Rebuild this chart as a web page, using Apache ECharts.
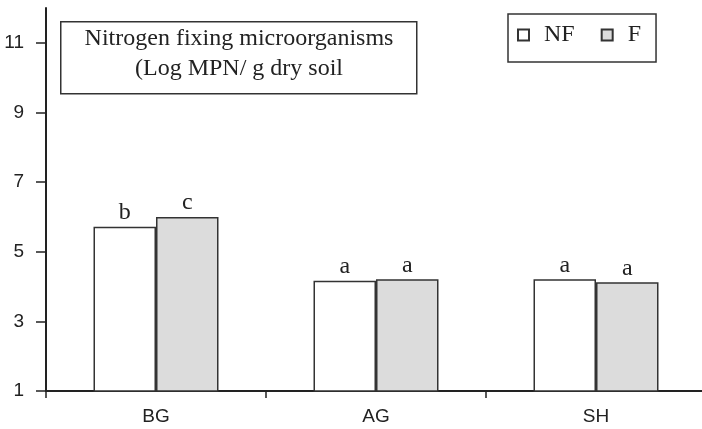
<!DOCTYPE html>
<html>
<head>
<meta charset="utf-8">
<script src="https://cdn.jsdelivr.net/npm/echarts@6/dist/echarts.min.js"></script>
<style>
html,body{margin:0;padding:0;background:#fff;}
#chart{width:702px;height:429px;}
</style>
</head>
<body>
<div id="chart"></div>
<script>
var categories = ['BG', 'AG', 'SH'];
var seriesNames = ['NF', 'F'];
var nfValues = [5.72, 4.17, 4.21];
var fValues = [6.0, 4.21, 4.12];
var nfLetters = ['b', 'a', 'a'];
var fLetters = ['c', 'a', 'a'];
var yTicks = [1, 3, 5, 7, 9, 11];
var titleLines = ['Nitrogen fixing microorganisms', '(Log MPN/ g dry soil'];

var SERIF = '"Liberation Serif", "Times New Roman", serif';
var SANS = '"Liberation Sans", Arial, sans-serif';
var INK = '#222';

var chart = echarts.init(document.getElementById('chart'), null, {renderer: 'canvas'});

function barLabel(letters) {
  return {
    show: true,
    position: 'top',
    distance: 2,
    fontFamily: SERIF,
    fontSize: 24,
    color: INK,
    formatter: function (p) { return letters[p.dataIndex]; }
  };
}

var option = {
  animation: false,
  backgroundColor: '#fff',
  grid: {left: 46, top: 8, width: 660, height: 383, outerBoundsMode: 'none', containLabel: false},
  legend: {
    data: seriesNames,
    left: 508,
    top: 14,
    orient: 'horizontal',
    icon: 'rect',
    itemWidth: 11,
    itemHeight: 11,
    itemGap: 26,
    padding: [9, 15, 15, 9],
    borderColor: '#333',
    borderWidth: 1.5,
    textStyle: {fontFamily: SERIF, fontSize: 24, color: INK, padding: [0, 0, 0, 10]}
  },
  xAxis: {
    type: 'category',
    data: categories,
    boundaryGap: true,
    axisLine: {show: true, lineStyle: {color: INK, width: 2}},
    axisTick: {show: true, alignWithLabel: false, length: 7, inside: false, lineStyle: {color: INK, width: 1.5}},
    axisLabel: {fontFamily: SANS, fontSize: 19, color: INK, margin: 16},
    splitLine: {show: false}
  },
  yAxis: {
    type: 'value',
    min: 1,
    max: 12,
    axisLine: {show: true, lineStyle: {color: INK, width: 2}},
    axisTick: {show: true, length: 10, inside: false, customValues: yTicks, lineStyle: {color: INK, width: 1.5}},
    axisLabel: {show: true, fontFamily: SANS, fontSize: 19, color: INK, margin: 22, customValues: yTicks},
    splitLine: {show: false}
  },
  series: [
    {
      name: seriesNames[0],
      type: 'bar',
      data: nfValues,
      barWidth: 62.5,
      barGap: '0%',
      itemStyle: {color: '#ffffff', borderColor: '#333', borderWidth: 1.5},
      label: barLabel(nfLetters)
    },
    {
      name: seriesNames[1],
      type: 'bar',
      data: fValues,
      barWidth: 62.5,
      barGap: '0%',
      itemStyle: {color: '#dcdcdc', borderColor: '#333', borderWidth: 1.5},
      label: barLabel(fLetters)
    }
  ],
  graphic: [
    {
      type: 'rect',
      left: 60,
      top: 21,
      shape: {x: 0, y: 0, width: 356, height: 72},
      style: {fill: '#fff', stroke: '#333', lineWidth: 1.5},
      z: 10
    },
    {
      type: 'text',
      x: 239,
      y: 39,
      style: {text: titleLines[0], font: '24px ' + SERIF, fill: INK, align: 'center', verticalAlign: 'middle'},
      z: 11
    },
    {
      type: 'text',
      x: 239,
      y: 69,
      style: {text: titleLines[1], font: '24px ' + SERIF, fill: INK, align: 'center', verticalAlign: 'middle'},
      z: 11
    }
  ]
};

chart.setOption(option);
</script>
</body>
</html>
